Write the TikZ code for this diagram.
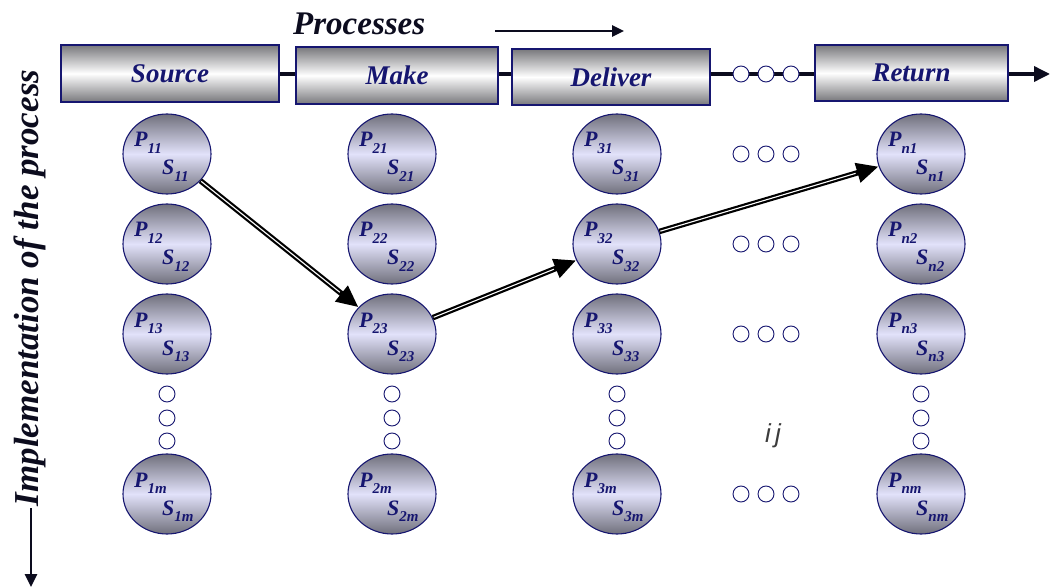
\documentclass[tikz,border=0pt]{standalone}
\usepackage{fontspec}
\setmainfont{Liberation Serif}
\newfontfamily\ijfont{Liberation Sans}
\usetikzlibrary{arrows.meta,shapes.geometric,calc}
\definecolor{navy}{RGB}{22,22,112}
\definecolor{inkblack}{RGB}{12,12,30}
\definecolor{boxgray}{RGB}{120,120,124}
\definecolor{cgray}{RGB}{112,112,124}
\definecolor{lav}{RGB}{226,226,250}
\definecolor{ijgray}{RGB}{60,60,60}
\newcommand\subs[1]{\raisebox{-0.28em}{\fontsize{15}{15}\selectfont #1}}
\tikzset{
  procbox/.style={rectangle, draw=navy, line width=1.8pt, inner sep=0pt,
    top color=boxgray, bottom color=boxgray, middle color=white,
    text=navy, font=\fontsize{27}{27}\selectfont\bfseries\itshape},
  pscirc/.style={ellipse, draw=navy, line width=1.1pt, inner sep=0pt,
    minimum width=88pt, minimum height=80pt,
    top color=cgray, bottom color=cgray, middle color=lav},
  lblP/.style={anchor=base west, inner sep=0pt, text=navy,
    font=\fontsize{22}{22}\selectfont\bfseries\itshape},
  smalldot/.style={circle, draw=navy, fill=white, line width=0.9pt,
    minimum size=16pt, inner sep=0pt},
  conn/.style={line width=3.5pt, draw=inkblack},
  bigarrow/.style={line width=5.5pt, draw=black, -{Triangle[length=22pt,width=19pt]}},
  stripe/.style={draw=white, line width=1.1pt, shorten >=24pt, shorten <=1pt},
  titletext/.style={inner sep=0pt, text=inkblack, font=\fontsize{33}{33}\selectfont\bfseries\itshape}
}
\begin{document}
\begin{tikzpicture}[x=1pt,y=-1pt]
\useasboundingbox (0,0) rectangle (1050,588);

% title
\node[titletext, anchor=base west] (proc) at (293,35) {Processes};
\coordinate (pa1) at (495,31);
\coordinate (pa2) at (624,31);
\draw[line width=2.6pt, draw=inkblack, -{Triangle[length=12pt,width=11pt]}] (pa1) -- (pa2);

% vertical title
\node[titletext, font=\fontsize{35}{35}\selectfont\bfseries\itshape, rotate=90, anchor=base] (impl) at (38,288) {Implementation of the process};
\coordinate (va1) at (31,508);
\coordinate (va2) at (31,587);
\draw[line width=2.8pt, draw=inkblack, -{Triangle[length=13pt,width=12pt]}] (va1) -- (va2);

% process boxes
\node[procbox, minimum width=218pt, minimum height=57pt] (src) at (170,73.5) {Source};
\node[procbox, minimum width=202pt, minimum height=57pt] (mk) at (397,75.5) {Make};
\node[procbox, minimum width=198pt, minimum height=56pt] (dl) at (611,77) {Deliver};
\node[procbox, minimum width=193pt, minimum height=56pt] (rt) at (911.5,73) {Return};

% connectors between boxes
\coordinate (rowline) at (0,74);
\draw[conn] (src.east |- rowline) -- (mk.west |- rowline);
\draw[conn] (mk.east |- rowline) -- (dl.west |- rowline);
\draw[conn] (dl.east |- rowline) -- (rt.west |- rowline);
\coordinate (outend) at (1050,74);
\draw[conn, -{Triangle[length=16pt,width=15pt]}] (rt.east |- rowline) -- (outend);
\node[smalldot] (t1) at (741,74) {};
\node[smalldot] (t2) at (766,74) {};
\node[smalldot] (t3) at (791,74) {};

% circles
\foreach \cx/\cn in {167/1, 392/2, 617/3, 921/n}{
  \foreach \ry/\rn in {154/1, 244/2, 334/3, 494/m}{
    \node[pscirc] (c\cn\rn) at (\cx,\ry) {};
    \node[lblP] (p\cn\rn) at ($(c\cn\rn)+(-33,-7)$) {P\subs{\cn\rn}};
    \node[lblP] (s\cn\rn) at ($(c\cn\rn)+(-5,21)$) {S\subs{\cn\rn}};
  }
  \node[smalldot] (v\cn a) at (\cx,394) {};
  \node[smalldot] (v\cn b) at (\cx,418) {};
  \node[smalldot] (v\cn c) at (\cx,441) {};
}

% horizontal dot triples
\foreach \ry/\rn in {154/1, 244/2, 334/3, 494/m}{
  \node[smalldot] (h\rn a) at (741,\ry) {};
  \node[smalldot] (h\rn b) at (766,\ry) {};
  \node[smalldot] (h\rn c) at (791,\ry) {};
}

% i j
\node[inner sep=0pt, text=ijgray, font=\fontsize{26}{26}\selectfont\ijfont\itshape] (ij) at (773,436) {i\,j};

% path arrows
\draw[bigarrow] (c11) -- (c23);
\draw[stripe] (c11) -- (c23);
\draw[bigarrow] (c23) -- (c32);
\draw[stripe] (c23) -- (c32);
\draw[bigarrow] (c32) -- (cn1);
\draw[stripe] (c32) -- (cn1);
\end{tikzpicture}
\end{document}
